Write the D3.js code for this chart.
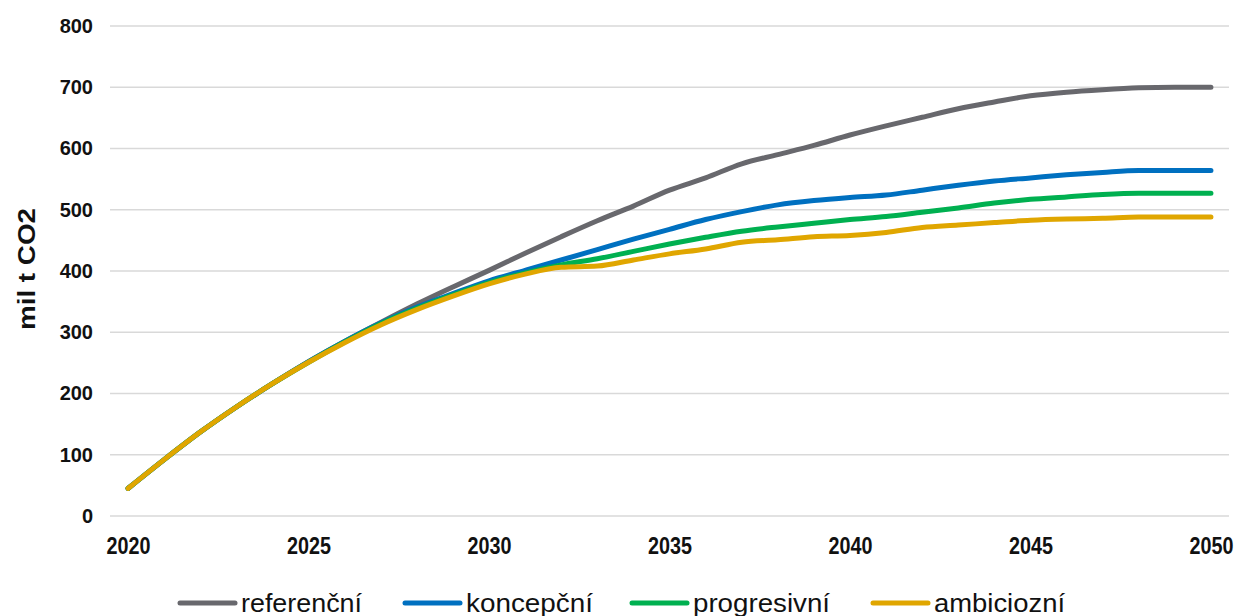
<!DOCTYPE html>
<html>
<head>
<meta charset="utf-8">
<script src="https://cdn.jsdelivr.net/npm/d3@7/dist/d3.min.js"></script>
<style>
  html, body { margin: 0; padding: 0; background: #fff; }
  svg { display: block; }
</style>
</head>
<body>
<svg id="chart" width="1243" height="616"></svg>
<script>
const years = d3.range(2020, 2051);
const xTickLabels = ["2020", "2025", "2030", "2035", "2040", "2045", "2050"];
const yTicks = [0, 100, 200, 300, 400, 500, 600, 700, 800];
const seriesNames = ["referenční", "koncepční", "progresivní", "ambiciozní"];
const seriesColors = ["#68686d", "#0070c0", "#00b050", "#e0a600"];

const referencni = [45, 92, 137, 178, 216, 252, 285, 316, 346, 374, 401, 429, 456, 482, 506, 532, 552, 575, 590, 605, 622, 637, 651, 665, 676, 686, 692, 696, 699, 700, 700];
const koncepcni  = [45, 92, 137, 178, 216, 252, 285, 315, 341, 363, 384, 401, 418, 435, 452, 468, 484, 497, 508, 515, 520, 524, 532, 540, 547, 552, 557, 561, 564, 564, 564];
const progresivni= [45, 92, 137, 178, 216, 251, 284, 314, 339, 361, 381, 397, 410, 420, 432, 444, 455, 465, 472, 478, 484, 489, 496, 503, 511, 517, 521, 525, 527, 527, 527];
const ambiciozni = [45, 92, 137, 178, 216, 251, 283, 312, 337, 359, 379, 395, 406, 408, 418, 428, 436, 447, 451, 456, 458, 463, 471, 475, 479, 483, 485, 486, 488, 488, 488];

const allSeries = [referencni, koncepcni, progresivni, ambiciozni];

const svg = d3.select("#chart");
const plot = { left: 110, right: 1229, top: 26, bottom: 516 };

const x = d3.scalePoint()
  .domain(years.map(String))
  .range([plot.left, plot.right])
  .padding(0.5);

const y = d3.scaleLinear()
  .domain([0, 800])
  .range([plot.bottom, plot.top]);

// gridlines
svg.append("g")
  .selectAll("line")
  .data(yTicks)
  .join("line")
  .attr("x1", plot.left)
  .attr("x2", plot.right)
  .attr("y1", d => y(d))
  .attr("y2", d => y(d))
  .attr("stroke", "#d9d9d9")
  .attr("stroke-width", 1.5);

// y axis
const yAxis = svg.append("g")
  .attr("transform", `translate(${plot.left},0)`)
  .call(d3.axisLeft(y).tickValues(yTicks).tickSize(0).tickPadding(17));
yAxis.select(".domain").remove();
yAxis.selectAll("text")
  .attr("font-family", "'Liberation Sans', Arial, sans-serif")
  .attr("font-weight", "bold")
  .attr("font-size", "20px")
  .attr("fill", "#111");

// x axis
const xAxis = svg.append("g")
  .attr("transform", `translate(0,${plot.bottom})`)
  .call(d3.axisBottom(x).tickValues(xTickLabels).tickSize(0).tickPadding(22));
xAxis.select(".domain").remove();
xAxis.selectAll("text")
  .attr("font-family", "'Liberation Sans Narrow', 'Arial Narrow', 'Liberation Sans', sans-serif")
  .attr("font-weight", "bold")
  .attr("font-size", "23px")
  .attr("fill", "#111")
  .attr("textLength", 44)
  .attr("lengthAdjust", "spacingAndGlyphs");

// y title
svg.append("text")
  .attr("transform", "translate(35,269) rotate(-90)")
  .attr("text-anchor", "middle")
  .attr("font-family", "'Liberation Sans', Arial, sans-serif")
  .attr("font-weight", "bold")
  .attr("font-size", "24px")
  .attr("fill", "#111")
  .attr("textLength", 122)
  .attr("lengthAdjust", "spacingAndGlyphs")
  .text("mil t CO2");

// lines
const line = d3.line()
  .x((d, i) => x(String(years[i])))
  .y(d => y(d))
  .curve(d3.curveMonotoneX);

svg.append("g")
  .selectAll("path")
  .data(allSeries)
  .join("path")
  .attr("d", d => line(d))
  .attr("fill", "none")
  .attr("stroke", (d, i) => seriesColors[i])
  .attr("stroke-width", 5)
  .attr("stroke-linecap", "round")
  .attr("stroke-linejoin", "round");

// legend
const legendX = [178, 403, 630, 871];
const legendTextW = [121, 127, 137, 131];
const lg = svg.append("g");
seriesNames.forEach((name, i) => {
  lg.append("line")
    .attr("x1", legendX[i] + 2)
    .attr("x2", legendX[i] + 57)
    .attr("y1", 603)
    .attr("y2", 603)
    .attr("stroke", seriesColors[i])
    .attr("stroke-width", 5)
    .attr("stroke-linecap", "round");
  lg.append("text")
    .attr("x", legendX[i] + 63)
    .attr("y", 612)
    .attr("font-family", "'Liberation Sans Narrow', 'Arial Narrow', 'Liberation Sans', sans-serif")
    .attr("font-size", "25px")
    .attr("fill", "#111")
    .attr("textLength", legendTextW[i])
    .attr("lengthAdjust", "spacingAndGlyphs")
    .text(name);
});
</script>
</body>
</html>
